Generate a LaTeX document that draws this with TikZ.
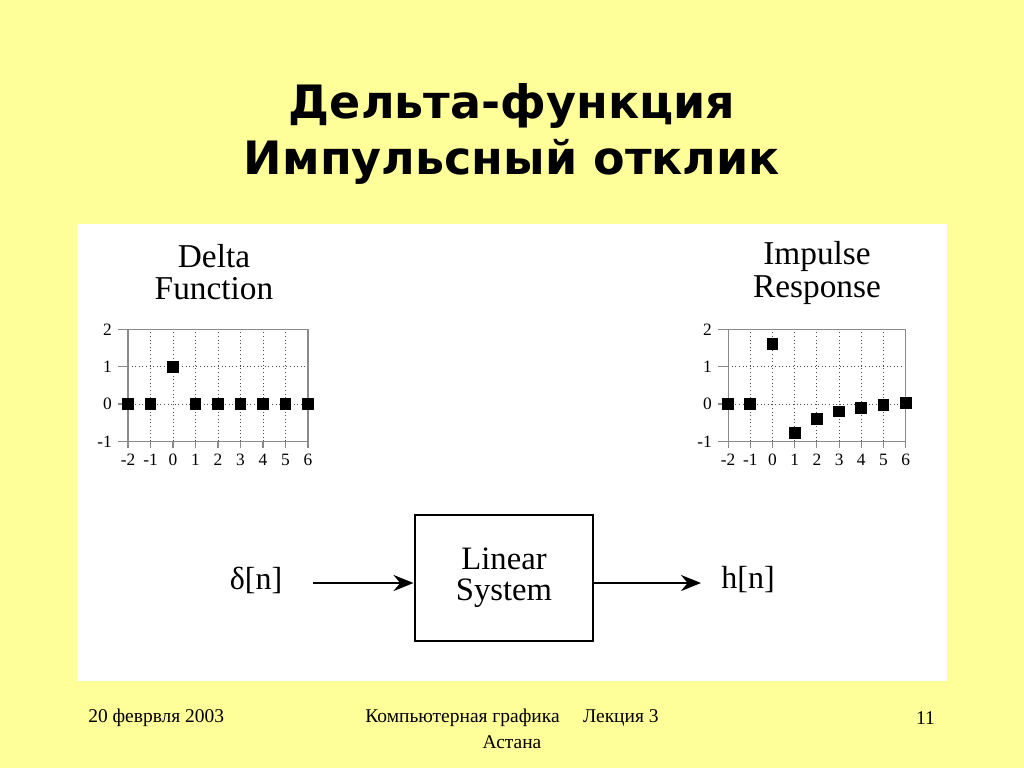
\documentclass[tikz,border=0pt]{standalone}
\usepackage{fontspec}
\setmainfont{Liberation Serif}
\newfontfamily\titlefont{DejaVu Sans}
\usetikzlibrary{arrows.meta}
\definecolor{slidebg}{HTML}{FFFF99}
\definecolor{gridgray}{HTML}{8A8A8A}
\begin{document}
\begin{tikzpicture}[x=0.75pt,y=-0.75pt,
  frame/.style={draw=gridgray,line width=0.8pt},
  gridln/.style={draw=black!70,line width=0.7pt,dotted},
  mk/.style={fill=black,minimum size=8.8pt,inner sep=0pt,draw=none},
  ylab/.style={font=\fontsize{13}{13}\selectfont,anchor=east,inner sep=0pt},
  xlab/.style={font=\fontsize{13}{13}\selectfont,anchor=center,inner sep=0pt},
  plottitle/.style={font=\fontsize{25}{24.5}\selectfont,align=center,inner sep=0pt},
  sysbox/.style={draw,line width=2.2pt,minimum width=133.5pt,minimum height=94.5pt,align=center,font=\fontsize{24.5}{23}\selectfont},
  sig/.style={font=\fontsize{24}{24}\selectfont,inner sep=0pt},
  conn/.style={line width=2pt,-{Stealth[length=15pt,width=12pt,inset=5pt]}},
  foot/.style={font=\fontsize{14.6}{18}\selectfont,inner sep=0pt},
  ttl/.style={font=\titlefont\bfseries\fontsize{34.5}{42}\selectfont,inner sep=0pt,align=center}]
\useasboundingbox (0,0) rectangle (1024,768);
\fill[slidebg] (0,0) rectangle (1024,768);
\fill[white] (77,224) rectangle (947,681);

% title
\node[ttl] (t1) at (512,106) {Дельта-функция};
\node[ttl] (t2) at (512,162) {Импульсный отклик};

% left plot
\node[plottitle] (dtitle) at (214,272) {Delta\\Function};
\begin{scope}[shift={(173,404)},x=16.875pt,y=27.975pt]
  \foreach \i in {-1,...,5} \draw[gridln] (\i,-1) -- (\i,2);
  \foreach \j in {0,1} \draw[gridln] (-2,\j) -- (6,\j);
  \draw[frame] (-2,-1) rectangle (6,2);
  \foreach \i in {-2,...,6} \draw[frame] (\i,-1) -- ++(0,-5.25pt);
  \foreach \j in {-1,...,2} \draw[frame] (-2,\j) -- ++(-7.5pt,0);
  \foreach \j in {-1,...,2} \node[ylab,xshift=-12pt] (ly\j) at (-2,\j) {\j};
  \foreach \i in {-2,...,6} \node[xlab,yshift=-14pt] (lx\i) at (\i,-1) {\i};
  \foreach \i/\v in {-2/0,-1/0,0/1,1/0,2/0,3/0,4/0,5/0,6/0}
    \node[mk] (dm\i) at (\i,\v) {};
\end{scope}

% right plot
\node[plottitle] (rtitle) at (817,273) {Impulse\\Response};
\begin{scope}[shift={(772.5,404)},x=16.65pt,y=27.975pt]
  \foreach \i in {-1,...,5} \draw[gridln] (\i,-1) -- (\i,2);
  \foreach \j in {0,1} \draw[gridln] (-2,\j) -- (6,\j);
  \draw[frame] (-2,-1) rectangle (6,2);
  \foreach \i in {-2,...,6} \draw[frame] (\i,-1) -- ++(0,-5.25pt);
  \foreach \j in {-1,...,2} \draw[frame] (-2,\j) -- ++(-7.5pt,0);
  \foreach \j in {-1,...,2} \node[ylab,xshift=-12pt] (ry\j) at (-2,\j) {\j};
  \foreach \i in {-2,...,6} \node[xlab,yshift=-14pt] (rx\i) at (\i,-1) {\i};
  \foreach \i/\v in {-2/0,-1/0,0/1.6,1/-0.77,2/-0.4,3/-0.2,4/-0.1,5/-0.03,6/0.02}
    \node[mk] (hm\i) at (\i,\v) {};
\end{scope}

% block diagram
\node[sysbox] (sys) at (504,578) {Linear\\System};
\node[sig] (in) at (256,580) {δ[n]};
\node[sig] (out) at (748,580) {h[n]};
\coordinate (a1) at (313,583);
\coordinate (a2) at (701,583);
\draw[conn] (a1) -- (a1 -| sys.west);
\draw[conn] (a1 -| sys.east) -- (a2);

% footer
\node[foot,anchor=west] (date) at (88,718) {20 феврвля 2003};
\node[foot] (course) at (512,718) {Компьютерная графика\hspace{1.2em}Лекция 3};
\node[foot] (city) at (512,742) {Астана};
\node[foot,anchor=east] (page) at (935,718) {11};
\end{tikzpicture}
\end{document}
